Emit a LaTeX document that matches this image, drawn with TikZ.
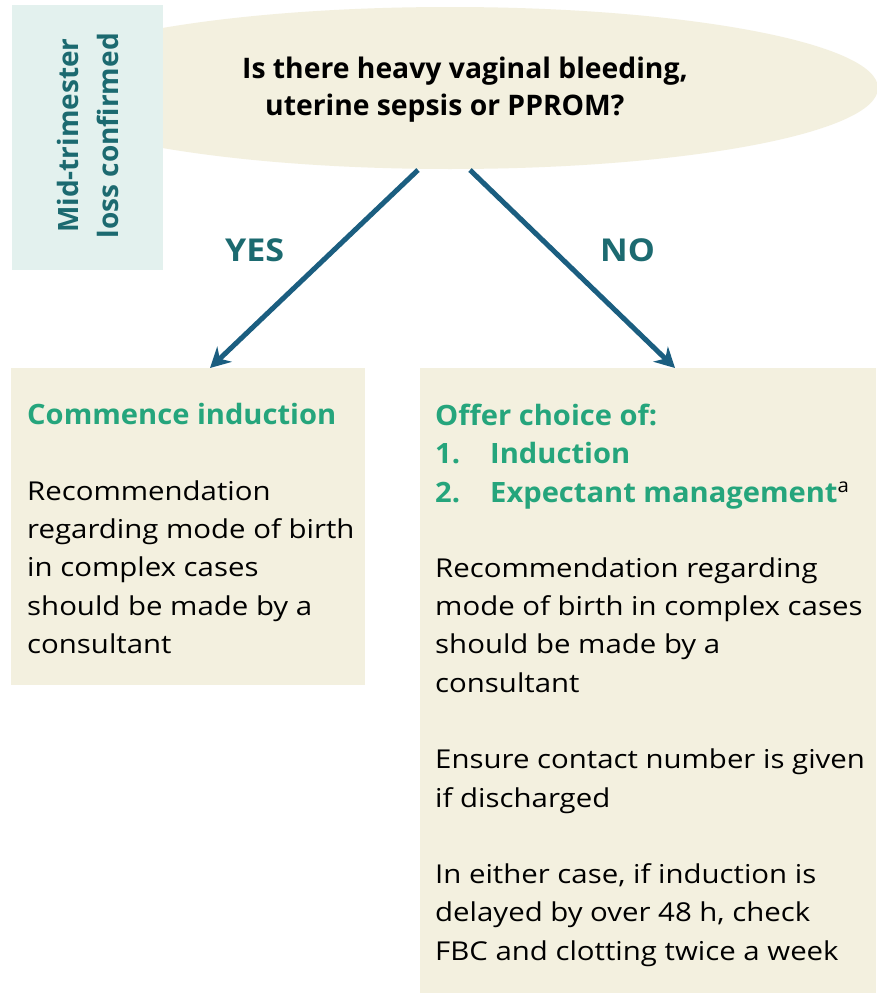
\documentclass[tikz,border=0pt]{standalone}
\usepackage{fontspec}
\setmainfont{Open Sans}
\newfontfamily\bodyfont[FakeStretch=1.13]{Open Sans}
\newfontfamily\ttlfont[FakeStretch=1.04]{Open Sans}
\newfontfamily\lblfont[FakeStretch=1.08]{Open Sans}
\usetikzlibrary{shapes.geometric,arrows.meta,calc}
\definecolor{tealbg}{HTML}{E3F1EE}
\definecolor{beige}{HTML}{F3F0DF}
\definecolor{tealtxt}{HTML}{1C6A70}
\definecolor{arrowc}{HTML}{1B5E80}
\definecolor{greentxt}{HTML}{25A57C}
\tikzset{
  boxbg/.style={fill=beige, inner sep=0pt, anchor=north west},
  body/.style={anchor=base west, inner sep=0pt, font=\bodyfont\fontsize{26}{38}\selectfont, text=black},
  ttl/.style={anchor=base west, inner sep=0pt, font=\ttlfont\fontsize{28}{38}\selectfont\bfseries, text=greentxt},
  qtxt/.style={anchor=base west, inner sep=0pt, font=\fontsize{28.3}{37}\selectfont\bfseries, text=black},
  lbl/.style={anchor=base west, inner sep=0pt, font=\lblfont\fontsize{31.5}{31}\selectfont\bfseries, text=tealtxt},
  arr/.style={draw=arrowc, line width=5pt, -{Stealth[length=20pt, width=21pt]}}
}
\begin{document}
\begin{tikzpicture}[x=1pt,y=-1pt]
\useasboundingbox (0,0) rectangle (876,993);
\fill[white] (0,0) rectangle (876,993);
% question ellipse
\node[ellipse, fill=beige, minimum width=856pt, minimum height=162pt, inner sep=0pt] (q) at (450,88) {};
% side box
\node[fill=tealbg, minimum width=151pt, minimum height=265pt, inner sep=0pt, anchor=north west] (mid) at (12,5) {};
\node[rotate=90, align=center, font=\fontsize{28}{40}\selectfont\bfseries, text=tealtxt] (midtxt) at ($(mid.center)+(0,-2)$) {Mid-trimester\\loss confirmed};
% question text
\node[qtxt] (q1) at (242,78) {Is there heavy vaginal bleeding,};
\node[qtxt] (q2) at (265,115) {uterine sepsis or PPROM?};
% boxes
\node[boxbg, minimum width=354pt, minimum height=317pt] (yesbox) at (11,368) {};
\node[boxbg, minimum width=456pt, minimum height=625pt] (nobox) at (420,368) {};
% arrows
\coordinate (ys) at (418,170);
\coordinate (ns) at (470,170);
\coordinate (ye) at (210,368);
\coordinate (ne) at (675,368);
\draw[arr] (ys) -- (ye);
\draw[arr] (ns) -- (ne);
\node[lbl] (yes) at (225,261) {YES};
\node[lbl] (no) at (600,261) {NO};
% left box text
\node[ttl] (l0) at (27,424) {Commence induction};
\node[body] (l1) at (27,500) {Recommendation};
\node[body] (l2) at (27,538) {regarding mode of birth};
\node[body] (l3) at (27,576) {in complex cases};
\node[body] (l4) at (27,615) {should be made by a};
\node[body] (l5) at (27,653) {consultant};
% right box text
\node[ttl] (r0) at (435,425) {Offer choice of:};
\node[ttl] (r1n) at (435,463) {1.};
\node[ttl] (r1) at (490,463) {Induction};
\node[ttl] (r2n) at (435,502) {2.};
\node[ttl] (r2) at (490,502) {Expectant management\textsuperscript{\mdseries\color{black}a}};
\node[body] (r3) at (435,577) {Recommendation regarding};
\node[body] (r4) at (435,615) {mode of birth in complex cases};
\node[body] (r5) at (435,653) {should be made by a};
\node[body] (r6) at (435,692) {consultant};
\node[body] (r7) at (435,768) {Ensure contact number is given};
\node[body] (r8) at (435,807) {if discharged};
\node[body] (r9) at (435,883) {In either case, if induction is};
\node[body] (r10) at (435,921) {delayed by over 48 h, check};
\node[body] (r11) at (435,960) {FBC and clotting twice a week};
\end{tikzpicture}
\end{document}
